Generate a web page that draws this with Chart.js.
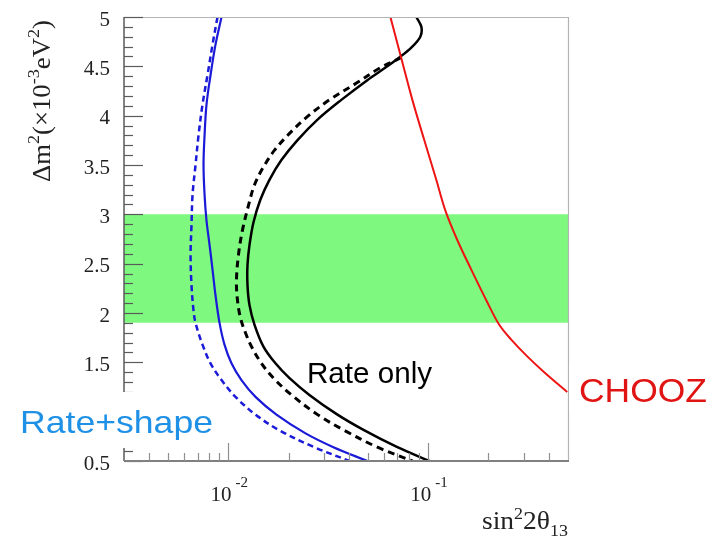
<!DOCTYPE html>
<html><head><meta charset="utf-8">
<script src="https://cdn.jsdelivr.net/npm/chart.js@4/dist/chart.umd.min.js"></script>
<style>html,body{margin:0;padding:0;background:#fff}#wrap{width:725px;height:539px}</style>
</head><body><div id="wrap"><canvas id="c" width="725" height="539"></canvas></div>
<script>
// ---- data (x = sin^2 2θ13, y = Δm^2 [1e-3 eV^2]) ----
const blueSolidX = [0.00923,0.00861,0.00813,0.00776,0.00759,0.0075,0.00759,0.00776,0.00804,0.00832,0.00861,0.00902,0.00955,0.01035,0.01161,0.01365,0.01738,0.0243,0.0335,0.0495];
const blueSolidY = [5.0,4.72,4.41,4.11,3.80,3.50,3.20,2.94,2.69,2.44,2.18,1.90,1.68,1.49,1.32,1.15,0.97,0.78,0.64,0.5];
const blueDashX  = [0.00881,0.00832,0.00785,0.00741,0.00708,0.00684,0.00661,0.00653,0.00646,0.00653,0.00668,0.00684,0.00741,0.00813,0.00923,0.01084,0.01365,0.0180,0.0269,0.0403];
const blueDashY  = [5.0,4.72,4.41,4.11,3.80,3.50,3.20,2.89,2.59,2.28,2.03,1.90,1.68,1.49,1.32,1.15,0.97,0.81,0.64,0.5];
const blackSolidX = [0.0871,0.0923,0.0912,0.0822,0.0716,0.0603,0.0495,0.0367,0.0279,0.0221,0.0184,0.01603,0.01445,0.01334,0.01274,0.01245,0.01245,0.01274,0.0135,0.01496,0.01718,0.0202,0.0254,0.0351,0.0479,0.070,0.1012];
const blackSolidY = [5.0,4.90,4.80,4.69,4.59,4.48,4.36,4.16,3.96,3.75,3.55,3.35,3.15,2.92,2.69,2.49,2.28,2.08,1.88,1.66,1.49,1.34,1.17,0.97,0.81,0.64,0.5];
const blackDashX = [0.0733,0.0569,0.0437,0.0320,0.0248,0.0202,0.0170,0.01496,0.0135,0.01259,0.01175,0.01122,0.01096,0.01109,0.01148,0.01216,0.01303,0.01462,0.0168,0.02065,0.0279,0.0380,0.0556,0.0832];
const blackDashY = [4.59,4.48,4.33,4.16,3.99,3.82,3.65,3.48,3.30,3.09,2.84,2.59,2.33,2.13,1.95,1.80,1.66,1.49,1.34,1.17,0.97,0.81,0.64,0.5];
const choozX = [0.0646,0.0733,0.0832,0.0955,0.1096,0.1216,0.1396,0.164,0.195,0.2265,0.260,0.3126,0.380,0.4955];
const choozY = [5.0,4.58,4.16,3.75,3.35,3.04,2.74,2.44,2.13,1.88,1.73,1.56,1.40,1.20];
const bandX = [0.003, 0.5];
const bandTop = 3.0;
const bandBottom = 1.9;
// axis ranges and ticks
const xRange = [0.003, 0.5];
const yRange = [0.5, 5];
const yMajorTicks = [0.5,1,1.5,2,2.5,3,3.5,4,4.5,5];
const yTickLabels = ['0.5','1','1.5','2','2.5','3','3.5','4','4.5','5'];
const xMajorTicks = [0.01, 0.1];
const xTickExponents = ['-2','-1'];
const xMinorTicks = [0.004,0.005,0.006,0.007,0.008,0.009,0.02,0.03,0.04,0.05,0.06,0.07,0.08,0.09,0.2,0.3,0.4];

const pts = (xs, ys) => xs.map((x, i) => ({x, y: ys[i]}));

function richText(ctx, parts, x, y, align, family) {
  let total = 0;
  const widths = parts.map(p => { ctx.font = p[1] + 'px ' + family; const w = ctx.measureText(p[0]).width; total += w; return w; });
  let cx = align === 'center' ? x - total/2 : (align === 'right' ? x - total : x);
  parts.forEach((p, i) => { ctx.font = p[1] + 'px ' + family; ctx.fillText(p[0], cx, y + p[2]); cx += widths[i]; });
  return total;
}

const rootAxes = {
  id: 'rootAxes',
  afterDatasetsDraw(chart) {
    const {ctx, chartArea: a, scales: {x, y}} = chart;
    ctx.save();
    // frame (top/right)
    ctx.strokeStyle = '#b4b4b4'; ctx.lineWidth = 1.2;
    ctx.beginPath();
    ctx.moveTo(a.left, a.top + 0.5); ctx.lineTo(a.right + 0.5, a.top + 0.5); ctx.lineTo(a.right + 0.5, a.bottom);
    ctx.stroke();
    // left axis
    ctx.strokeStyle = '#5a5a5a'; ctx.lineWidth = 1.5;
    ctx.beginPath(); ctx.moveTo(a.left, a.top); ctx.lineTo(a.left, a.bottom); ctx.stroke();
    ctx.lineWidth = 1.2;
    for (let k = 5; k <= 50; k++) {
      const v = k / 10;
      const py = Math.round(y.getPixelForValue(v)) + 0.5;
      const major = (k % 5 === 0);
      ctx.beginPath(); ctx.moveTo(a.left, py); ctx.lineTo(a.left + (major ? 19 : 9), py); ctx.stroke();
    }
    // bottom axis
    ctx.strokeStyle = '#808080'; ctx.lineWidth = 2;
    ctx.beginPath(); ctx.moveTo(a.left, a.bottom); ctx.lineTo(a.right + 1, a.bottom); ctx.stroke();
    ctx.lineWidth = 1.2; ctx.strokeStyle = '#909090';
    xMajorTicks.forEach(v => { const px = Math.round(x.getPixelForValue(v)) + 0.5; ctx.beginPath(); ctx.moveTo(px, a.bottom); ctx.lineTo(px, a.bottom - 18); ctx.stroke(); });
    xMinorTicks.forEach(v => { const px = Math.round(x.getPixelForValue(v)) + 0.5; ctx.beginPath(); ctx.moveTo(px, a.bottom); ctx.lineTo(px, a.bottom - 8); ctx.stroke(); });
    // y tick labels
    ctx.fillStyle = '#222'; ctx.textBaseline = 'middle'; ctx.textAlign = 'right';
    ctx.font = '21px "Liberation Serif"';
    yMajorTicks.forEach((v, i) => ctx.fillText(yTickLabels[i], a.left - 14, y.getPixelForValue(v) + 3));
    // x tick labels 10^n
    ctx.textBaseline = 'alphabetic'; ctx.textAlign = 'left';
    xMajorTicks.forEach((v, i) => {
      const px = x.getPixelForValue(v);
      ctx.font = '21px "Liberation Serif"';
      const w = ctx.measureText('10').width;
      ctx.fillText('10', px + 3 - w, 501);
      ctx.font = '15px "Liberation Serif"';
      ctx.fillText(xTickExponents[i], px + 7, 487);
    });
    // x title
    ctx.save();
    ctx.translate(482, 529);
    const xparts = [['sin',26,0],['2',17,-10],['2θ',26,0],['13',17,7]];
    let xt = 0; xparts.forEach(p => { ctx.font = p[1] + 'px "Liberation Serif"'; xt += ctx.measureText(p[0]).width; });
    ctx.scale(86 / xt, 1);
    richText(ctx, xparts, 0, 0, 'left', '"Liberation Serif"');
    ctx.restore();
    // y title (rotated)
    ctx.save();
    ctx.translate(50, 101); ctx.rotate(-Math.PI/2);
    const parts = [['Δm',25,0],['2',17,-11],['(×10',25,0],['-3',17,-11],['eV',25,0],['2',17,-11],[')',25,0]];
    let tot = 0; parts.forEach(p => { ctx.font = p[1] + 'px "Liberation Serif"'; tot += ctx.measureText(p[0]).width; });
    ctx.scale(162 / tot, 1);
    richText(ctx, parts, 0, 0, 'center', '"Liberation Serif"');
    ctx.restore();
    // annotation boxes and labels
    ctx.fillStyle = '#fff';
    ctx.fillRect(10, 392, 206, 56);
    ctx.fillRect(569, 363, 156, 50);
    const label = (t, size, px, py, width, color) => {
      ctx.save();
      ctx.font = size + 'px "Liberation Sans"';
      const w = ctx.measureText(t).width;
      ctx.translate(px, py); ctx.scale(width / w, 1);
      ctx.fillStyle = color; ctx.textAlign = 'left'; ctx.textBaseline = 'alphabetic';
      ctx.fillText(t, 0, 0);
      ctx.restore();
    };
    label('Rate only', 29, 307, 383, 125, '#000');
    label('Rate+shape', 32, 20, 433, 193, 'rgb(30,144,230)');
    label('CHOOZ', 33, 579, 402, 128, 'rgb(225,20,20)');
    ctx.restore();
  }
};

const line = (xs, ys, color, width, dash) => ({
  data: pts(xs, ys), showLine: true, borderColor: color, borderWidth: width,
  borderDash: dash || [], pointRadius: 0, tension: 0.35, fill: false
});

new Chart(document.getElementById('c'), {
  type: 'scatter',
  data: {
    datasets: [
      line(choozX, choozY, '#ee1414', 2),
      line(blackSolidX, blackSolidY, '#000', 2.5),
      line(blackDashX, blackDashY, '#000', 3, [7, 5]),
      line(blueSolidX, blueSolidY, '#1a1ad8', 2.2),
      line(blueDashX, blueDashY, '#1a1ad8', 2.5, [6, 4]),
      { data: pts(bandX, [bandTop, bandTop]), showLine: true, borderWidth: 0, borderColor: 'rgba(0,0,0,0)',
        backgroundColor: 'rgb(127,248,127)', pointRadius: 0, fill: {value: bandBottom}, order: 10 }
    ]
  },
  options: {
    responsive: false, animation: false, devicePixelRatio: 1,
    layout: { padding: { left: 0, right: 157, top: 17, bottom: 0 } },
    plugins: { legend: {display: false}, tooltip: {enabled: false} },
    scales: {
      x: { type: 'logarithmic', min: xRange[0], max: xRange[1], ticks: {display: false}, grid: {display: false}, border: {display: false},
           afterFit: s => { s.height = 78; } },
      y: { type: 'linear', min: yRange[0], max: yRange[1], ticks: {display: false}, grid: {display: false}, border: {display: false},
           afterFit: s => { s.width = 124; } }
    }
  },
  plugins: [rootAxes]
});
</script></body></html>
